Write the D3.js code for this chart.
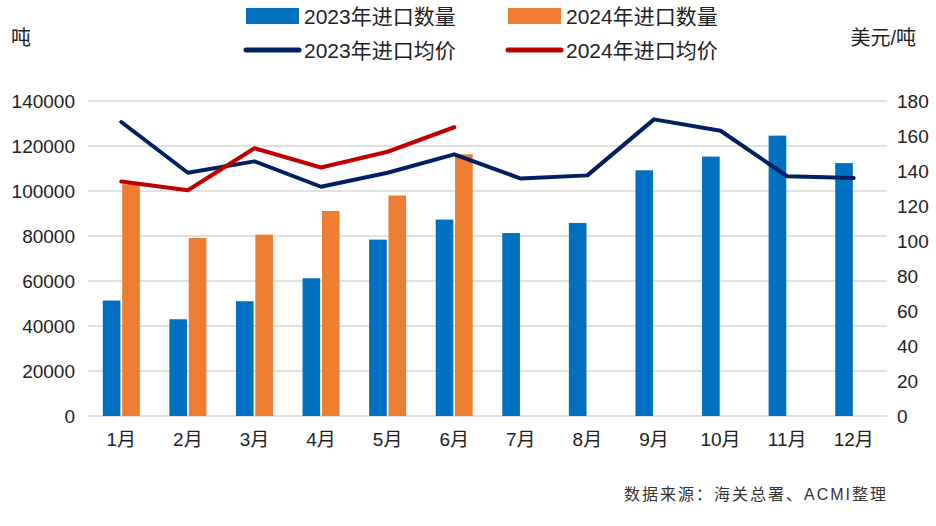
<!DOCTYPE html>
<html><head><meta charset="utf-8">
<script src="https://cdn.jsdelivr.net/npm/d3@7/dist/d3.min.js"></script>
<style>body{margin:0;background:#fff}svg{display:block}</style>
</head><body><svg id="c" width="936" height="526"></svg>
<script>
const months = ["1月","2月","3月","4月","5月","6月","7月","8月","9月","10月","11月","12月"];
const qty2023 = [51300,43000,51000,61200,78400,87300,81300,85800,109200,115300,124600,112400];
const qty2024 = [103000,79100,80600,91100,98000,116300];
const price2023 = [168,139,145.5,131,139,149.5,135.7,137.5,169.5,163,137,136];
const price2024 = [134,129,153,142,151,165];
const leftTicks = [0,20000,40000,60000,80000,100000,120000,140000];
const rightTicks = [0,20,40,60,80,100,120,140,160,180];
const seriesNames = ["2023年进口数量","2024年进口数量","2023年进口均价","2024年进口均价"];

const C = {b:"#0070C0", o:"#ED7D31", n:"#002060", r:"#C00000"};
const svg = d3.select("#c");
const L = 88, R = 887, T = 101, B = 416;
const font = "'Liberation Sans','Noto Sans CJK SC',Arial,sans-serif";

const x = d3.scaleBand().domain(months).range([L,R]).padding(0);
const bw = x.bandwidth();
const xi = d3.scaleBand().domain(["2023","2024"]).range([bw/2-18.5, bw/2+18.5]).paddingInner(0.09);
const yL = d3.scaleLinear().domain([0,140000]).range([B,T]);
const yR = d3.scaleLinear().domain([0,180]).range([B,T]);

// gridlines
svg.append("g").selectAll("line").data(leftTicks).join("line")
  .attr("x1",L).attr("x2",R).attr("y1",d=>yL(d)).attr("y2",d=>yL(d))
  .attr("stroke","#d9d9d9").attr("stroke-width",1.5);

// left axis
const la = svg.append("g").attr("transform",`translate(${L},0)`)
  .call(d3.axisLeft(yL).tickValues(leftTicks).tickFormat(d3.format("d")).tickSize(0).tickPadding(13));
la.select(".domain").remove();
la.selectAll("text").attr("font-family",font).attr("font-size",19).attr("fill","#222");

// right axis
const ra = svg.append("g").attr("transform",`translate(${R},0)`)
  .call(d3.axisRight(yR).tickValues(rightTicks).tickSize(0).tickPadding(10));
ra.select(".domain").remove();
ra.selectAll("text").attr("font-family",font).attr("font-size",19).attr("fill","#222");

// x axis
const xa = svg.append("g").attr("transform",`translate(0,${B})`)
  .call(d3.axisBottom(x).tickSize(0).tickPadding(17));
xa.select(".domain").remove();
xa.selectAll("text").attr("font-family",font).attr("font-size",19).attr("fill","#222");

// bars
svg.append("g").selectAll("rect").data(qty2023).join("rect")
  .attr("x",(d,i)=>x(months[i])+xi("2023")).attr("width",xi.bandwidth())
  .attr("y",d=>yL(d)).attr("height",d=>B-yL(d)).attr("fill",C.b);
svg.append("g").selectAll("rect").data(qty2024).join("rect")
  .attr("x",(d,i)=>x(months[i])+xi("2024")).attr("width",xi.bandwidth())
  .attr("y",d=>yL(d)).attr("height",d=>B-yL(d)).attr("fill",C.o);

// lines
const line = d3.line().x((d,i)=>x(months[i])+bw/2).y(d=>yR(d));
svg.append("path").datum(price2023).attr("d",line).attr("fill","none")
  .attr("stroke",C.n).attr("stroke-width",4).attr("stroke-linejoin","round").attr("stroke-linecap","round");
svg.append("path").datum(price2024).attr("d",line).attr("fill","none")
  .attr("stroke",C.r).attr("stroke-width",4).attr("stroke-linejoin","round").attr("stroke-linecap","round");

// axis titles
svg.append("text").attr("x",11).attr("y",45).text("吨")
  .attr("font-family",font).attr("font-size",20).attr("fill","#222");
svg.append("text").attr("x",916).attr("y",45).attr("text-anchor","end").text("美元/吨")
  .attr("font-family",font).attr("font-size",20).attr("fill","#222");

// legend
const leg = [
  {n:seriesNames[0],c:C.b,t:"rect",x:246,y:16},
  {n:seriesNames[1],c:C.o,t:"rect",x:508,y:16},
  {n:seriesNames[2],c:C.n,t:"line",x:246,y:50},
  {n:seriesNames[3],c:C.r,t:"line",x:508,y:50}
];
const lg = svg.append("g").selectAll("g").data(leg).join("g");
lg.filter(d=>d.t==="rect").append("rect").attr("x",d=>d.x).attr("y",d=>d.y-8).attr("width",53).attr("height",16).attr("fill",d=>d.c);
lg.filter(d=>d.t==="line").append("line").attr("x1",d=>d.x).attr("x2",d=>d.x+53).attr("y1",d=>d.y).attr("y2",d=>d.y)
  .attr("stroke",d=>d.c).attr("stroke-width",5).attr("stroke-linecap","round");
lg.append("text").attr("x",d=>d.x+58).attr("y",d=>d.y).attr("dy","0.36em").text(d=>d.n)
  .attr("font-family",font).attr("font-size",21).attr("fill","#222");

// source
svg.append("text").attr("x",888).attr("y",500).attr("text-anchor","end").text("数据来源：海关总署、ACMI整理")
  .attr("font-family",font).attr("font-size",16).attr("letter-spacing",2).attr("fill","#333");
</script></body></html>
